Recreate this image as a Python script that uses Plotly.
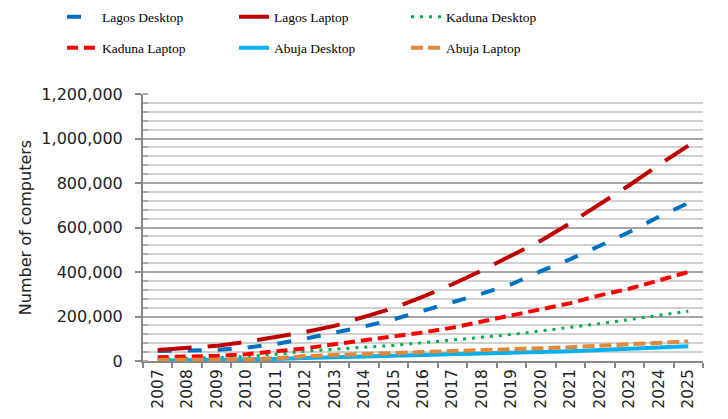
import plotly.graph_objects as go

years = [str(y) for y in range(2007, 2026)]

lagos_desktop = [45000, 46000, 50000, 60000, 76000, 100000, 127000, 155000, 187000, 224000,
                 264000, 303000, 345000, 404000, 458000, 518000, 580000, 648000, 710000]
lagos_laptop = [50000, 57000, 68000, 86000, 106000, 130000, 158000, 196000, 238000, 289000,
                345000, 407000, 472000, 541000, 620000, 703000, 790000, 881000, 968000]
kaduna_desktop = [10000, 12000, 15000, 20000, 30000, 44000, 54000, 62000, 70000, 82000,
                  96000, 106000, 119000, 135000, 150000, 168000, 186000, 205000, 224000]
kaduna_laptop = [17000, 19000, 23000, 30000, 42000, 57000, 75000, 92000, 109000, 128000,
                 150000, 178000, 204000, 232000, 260000, 295000, 325000, 362000, 400000]
abuja_desktop = [2000, 3000, 4000, 6000, 9000, 13000, 16000, 19000, 22000, 25000,
                 28000, 32000, 36000, 40000, 44000, 49000, 54000, 60000, 66000]
abuja_laptop = [5000, 5500, 6000, 7000, 12000, 22000, 27000, 30000, 34000, 40000,
                45000, 48000, 52000, 57000, 62000, 68000, 75000, 82000, 88000]

series = [
    ("Lagos Desktop", lagos_desktop, "#0070C0", "14px,16px", 4, "legend"),
    ("Lagos Laptop", lagos_laptop, "#C00000", "34px,16px", 4, "legend"),
    ("Kaduna Desktop", kaduna_desktop, "#00B050", "3px,6px", 3, "legend"),
    ("Kaduna Laptop", kaduna_laptop, "#FF0000", "11px,6px", 4, "legend2"),
    ("Abuja Desktop", abuja_desktop, "#00B0F0", "solid", 4, "legend2"),
    ("Abuja Laptop", abuja_laptop, "#E0883C", "12px,5px", 4, "legend2"),
]

fig = go.Figure()
for name, vals, color, dash, w, leg in series:
    fig.add_trace(go.Scatter(
        x=years, y=vals, name=name, mode="lines",
        line=dict(color=color, dash=dash, width=w),
        legend=leg,
    ))

W, H = 720, 411  # page body adds an 8px offset

legend_common = dict(
    orientation="h", xref="container", yref="container",
    xanchor="left", yanchor="middle",
    entrywidth=127, entrywidthmode="pixels",
    font=dict(family="Liberation Serif", size=13.5, color="black"),
    bgcolor="rgba(0,0,0,0)", tracegroupgap=0,
)

fig.update_layout(
    width=W, height=H,
    margin=dict(l=135, r=25, t=86, b=58, autoexpand=False),
    paper_bgcolor="white", plot_bgcolor="white",
    showlegend=True,
    legend=dict(x=54 / W, y=1 - 9 / H, **legend_common),
    legend2=dict(x=54 / W, y=1 - 40 / H, **legend_common),
    font=dict(family="DejaVu Sans", size=16, color="#222"),
)

fig.update_xaxes(
    type="category", tickangle=-90, tickson="boundaries",
    ticks="outside", ticklen=5, tickcolor="#888", tickwidth=1.5,
    showline=True, linecolor="#888", linewidth=2,
    showgrid=False, tickfont=dict(family="DejaVu Sans", size=15.5, color="#222"),
    range=[-0.5, 18.5], automargin=False,
)

fig.update_yaxes(
    range=[0, 1200000], dtick=200000, tickformat=",",
    ticks="outside", ticklen=6, tickcolor="#888", tickwidth=1.5,
    showline=True, linecolor="#888", linewidth=2,
    showgrid=True, gridcolor="#a6a6a6", gridwidth=1.5,
    minor=dict(dtick=40000, showgrid=True, gridcolor="#d0d0d0", gridwidth=1.5,
               ticks="inside", ticklen=5, tickcolor="#aaa"),
    ticklabelstandoff=9,
    zeroline=False, automargin=False,
    tickfont=dict(family="DejaVu Sans", size=16, color="#222"),
    title=dict(text="Number of computers", font=dict(family="DejaVu Sans", size=16, color="#222"),
               standoff=6),
)

fig.write_html("out.html")
